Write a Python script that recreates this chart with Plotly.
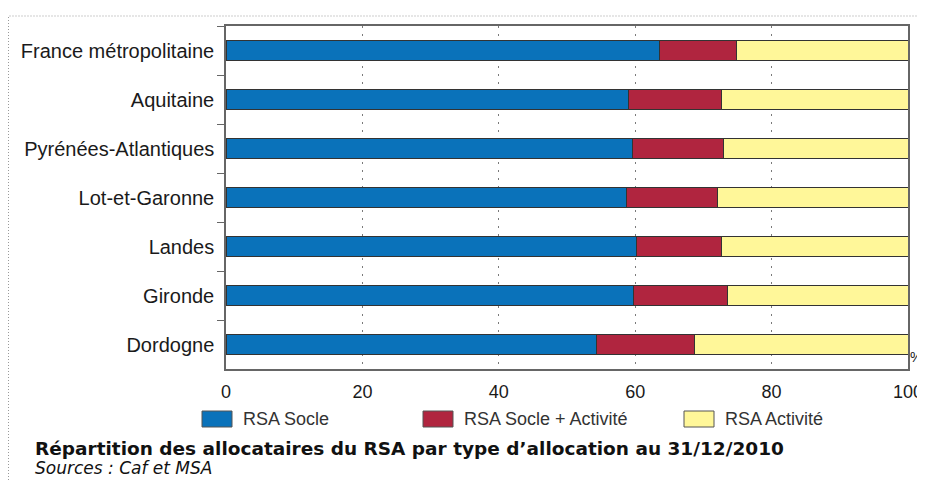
import plotly.graph_objects as go

categories = ["France métropolitaine", "Aquitaine", "Pyrénées-Atlantiques",
              "Lot-et-Garonne", "Landes", "Gironde", "Dordogne"]
socle = [63.5, 59.0, 59.6, 58.7, 60.2, 59.8, 54.3]
socle_activite = [11.4, 13.7, 13.4, 13.4, 12.5, 13.8, 14.4]
activite = [round(100 - a - b, 1) for a, b in zip(socle, socle_activite)]
series_names = ["RSA Socle", "RSA Socle + Activité", "RSA Activité"]
colors = ["#0A72BA", "#B0253F", "#FFF799"]
x_ticks = [0, 20, 40, 60, 80, 100]
title = "Répartition des allocataires du RSA par type d’allocation au 31/12/2010"
subtitle = "Sources : Caf et MSA"

# screen geometry (page has an 8px body margin)
OFF = 8
SW, SH = 925, 480
L, R, T, B = 226, 908, 26, 369

def px(x):
    return (x - L) / (R - L)

def py(y):
    return (B - y) / (B - T)

FONT = "Liberation Sans, Arial, Helvetica"
WIDE = "DejaVu Sans, Liberation Sans, Arial"

fig = go.Figure()
for name, vals, col in zip(series_names, [socle, socle_activite, activite], colors):
    fig.add_trace(go.Bar(
        y=categories, x=vals, name=name, orientation="h",
        marker=dict(color=col, line=dict(color="#333333", width=1)),
        showlegend=False,
    ))

fig.update_layout(
    width=SW - OFF, height=SH - OFF, barmode="stack", bargap=0.61,
    margin=dict(l=L - OFF, r=SW - R, t=T - OFF, b=SH - B, autoexpand=False),
    paper_bgcolor="white", plot_bgcolor="white",
    font=dict(family=FONT, size=18, color="#1a1a1a"),
    xaxis=dict(range=[0, 100], tickvals=x_ticks, showgrid=True,
               gridcolor="#7a7a7a", griddash="2px,6px", gridwidth=1.2,
               showline=True, linecolor="#666666", linewidth=2, mirror=True,
               ticks="", zeroline=False, ticklabelstandoff=5,
               tickfont=dict(size=18, family=FONT)),
    yaxis=dict(autorange="reversed", showline=True, linecolor="#666666",
               linewidth=1.5, mirror=True, ticks="outside", ticklen=7,
               tickcolor="#666666", tickson="boundaries", showgrid=False,
               ticklabelstandoff=6, automargin=False,
               tickfont=dict(size=20, family=FONT)),
)

shapes = []
# dotted outer border
shapes.append(dict(type="rect", xref="paper", yref="paper",
                   x0=px(8.5), x1=px(940), y0=py(495), y1=py(16),
                   line=dict(color="#9a9a9a", width=1, dash="1px,2px")))
annotations = []
# custom legend
leg_x = [202, 423, 684]
for lx, name, col in zip(leg_x, series_names, colors):
    shapes.append(dict(type="rect", xref="paper", yref="paper",
                       x0=px(lx), x1=px(lx + 30), y0=py(427), y1=py(411),
                       fillcolor=col, line=dict(color="#555555", width=1)))
    annotations.append(dict(xref="paper", yref="paper", x=px(lx + 39), y=py(419),
                            text=name, showarrow=False, xanchor="left",
                            yanchor="middle", font=dict(size=18, family=FONT, color="#333333")))
annotations.append(dict(xref="paper", yref="paper", x=px(33), y=py(448),
                        text="<b>" + title + "</b>", showarrow=False,
                        xanchor="left", yanchor="middle",
                        font=dict(size=18.5, family=WIDE, color="#111111")))
annotations.append(dict(xref="paper", yref="paper", x=px(33), y=py(467.5),
                        text="<i>" + subtitle + "</i>", showarrow=False,
                        xanchor="left", yanchor="middle",
                        font=dict(size=17, family=WIDE, color="#111111")))
annotations.append(dict(xref="paper", yref="paper", x=px(924), y=py(357),
                        text="%", showarrow=False, xanchor="right",
                        yanchor="middle", font=dict(size=14, family=FONT)))
fig.update_layout(shapes=shapes, annotations=annotations)

fig.write_html("out.html")
